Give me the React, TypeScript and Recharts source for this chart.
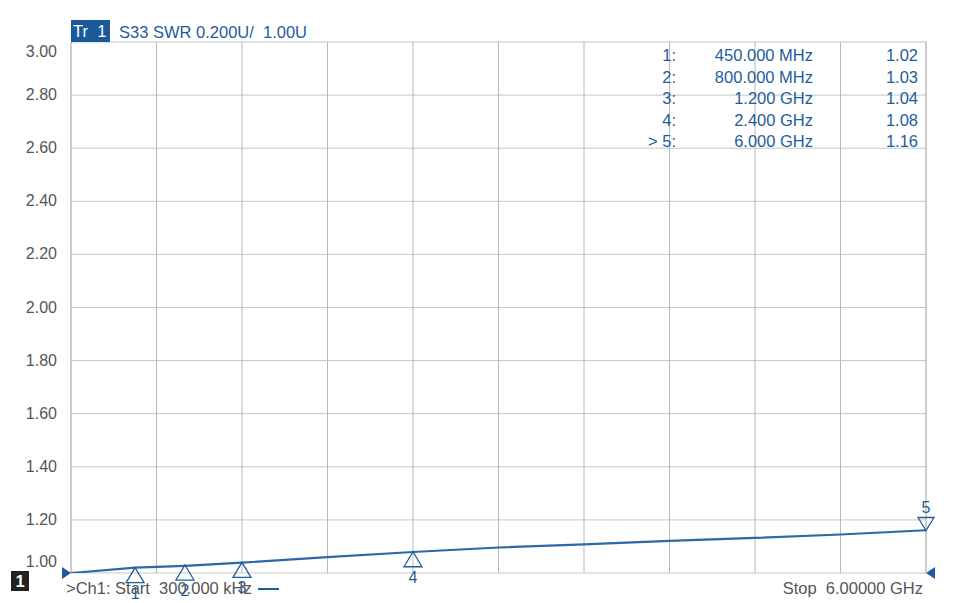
import React from 'react';
import { ComposedChart, Line, XAxis, YAxis, ReferenceLine, ReferenceDot } from 'recharts';

// trace: S33 SWR vs frequency (GHz)
const traceFreq = [0.0003, 0.45, 0.8, 1.2, 1.8, 2.4, 3.0, 3.6, 4.2, 4.8, 5.4, 6.0];
const traceSwr = [1.0, 1.02, 1.027, 1.039, 1.06, 1.079, 1.096, 1.108, 1.121, 1.132, 1.145, 1.161];

// markers
const markerIds = ['1', '2', '3', '4', '5'];
const markerFreq = [0.45, 0.8, 1.2, 2.4, 6.0];
const markerSwr = [1.02, 1.03, 1.04, 1.08, 1.16];
const markerTableIds = ['1:', '2:', '3:', '4:', '> 5:'];
const markerTableFreq = ['450.000 MHz', '800.000 MHz', '1.200 GHz', '2.400 GHz', '6.000 GHz'];
const markerTableVal = ['1.02', '1.03', '1.04', '1.08', '1.16'];

// axes
const yTicks = [1.0, 1.2, 1.4, 1.6, 1.8, 2.0, 2.2, 2.4, 2.6, 2.8, 3.0];
const startGHz = 0.0003;
const stopGHz = 6.0;
const xDivisions = Array.from({ length: 11 }, (_, i) => startGHz + (i * (stopGHz - startGHz)) / 10);

const data = traceFreq.map((f, i) => ({ f, swr: traceSwr[i] }));

const BLUE = '#1f5c9c';
const TRACE = '#2d68a8';
const FONT = '"Liberation Sans", Arial, sans-serif';

const YTick = (props: any) => {
    const { x, y, payload } = props;
    let dy = 5;
    if (payload.value >= 3) dy = 15;
    if (payload.value <= 1) dy = -6;
    return (
        <text x={x - 6} y={y + dy} textAnchor="end" fontSize={16} fill="#555" fontFamily={FONT}>
            {Number(payload.value).toFixed(2)}
        </text>
    );
};

const markerShape = (id: string, down: boolean) => (props: any) => {
    const { cx, cy } = props;
    if (down) {
        return (
            <g>
                <path d={`M${cx},${cy} L${cx - 8},${cy - 13} L${cx + 8},${cy - 13} Z`} fill="none" stroke={BLUE} strokeWidth={1.3} />
                <text x={cx} y={cy - 18} textAnchor="middle" fontSize={16} fill={BLUE} fontFamily={FONT}>{id}</text>
            </g>
        );
    }
    return (
        <g>
            <path d={`M${cx},${cy} L${cx - 9},${cy + 15} L${cx + 9},${cy + 15} Z`} fill="none" stroke={BLUE} strokeWidth={1.3} />
            <text x={cx} y={cy + 31} textAnchor="middle" fontSize={16} fill={BLUE} fontFamily={FONT}>{id}</text>
        </g>
    );
};

const refShape = (side: 'left' | 'right') => (props: any) => {
    const { cx, cy } = props;
    const d = side === 'left'
        ? `M${cx - 9},${cy - 6} L${cx},${cy} L${cx - 9},${cy + 6} Z`
        : `M${cx + 9},${cy - 6} L${cx},${cy} L${cx + 9},${cy + 6} Z`;
    return <path d={d} fill={BLUE} />;
};

export default function App() {
    const txt: React.CSSProperties = { position: 'absolute', fontFamily: FONT, fontSize: 16.5, lineHeight: '18px', whiteSpace: 'pre' };
    return (
        <div style={{ position: 'fixed', left: 0, top: 0, width: 960, height: 603, background: '#fff', overflow: 'hidden' }}>
            <ComposedChart width={960} height={603} data={data} margin={{ top: 42, right: 34, bottom: 30, left: 0 }}>
                <XAxis dataKey="f" type="number" domain={[startGHz, stopGHz]} hide allowDataOverflow />
                <YAxis type="number" domain={[1, 3]} ticks={yTicks} width={71} axisLine={false} tickLine={false} tick={YTick} interval={0} allowDataOverflow />
                {yTicks.map((v) => (
                    <ReferenceLine key={`h${v}`} y={v} stroke="#c6c6c6" strokeWidth={1} />
                ))}
                {xDivisions.map((v, i) => (
                    <ReferenceLine key={`v${i}`} x={v} stroke={i === 0 || i === 10 ? '#9a9a9a' : '#b8b8b8'} strokeWidth={1} />
                ))}
                <Line dataKey="swr" type="linear" stroke={TRACE} strokeWidth={2.2} dot={false} isAnimationActive={false} />
                {markerFreq.map((f, i) => (
                    <ReferenceDot key={`m${i}`} x={f} y={markerSwr[i]} ifOverflow="visible" shape={markerShape(markerIds[i], i === 4)} />
                ))}
                <ReferenceDot x={startGHz} y={1} ifOverflow="visible" shape={refShape('left')} />
                <ReferenceDot x={stopGHz} y={1} ifOverflow="visible" shape={refShape('right')} />
            </ComposedChart>

            <div style={{ ...txt, left: 71, top: 20, width: 37, height: 22, background: '#1a5a9c', color: '#fff', paddingLeft: 2, lineHeight: '22px' }}>Tr  1</div>
            <div style={{ ...txt, left: 119, top: 23, color: BLUE }}>S33 SWR 0.200U/  1.00U</div>

            {markerTableIds.map((id, i) => (
                <React.Fragment key={`t${i}`}>
                    <div style={{ ...txt, left: 600, width: 76, top: 46 + i * 21.6, textAlign: 'right', color: BLUE }}>{id}</div>
                    <div style={{ ...txt, left: 690, width: 123, top: 46 + i * 21.6, textAlign: 'right', color: BLUE }}>{markerTableFreq[i]}</div>
                    <div style={{ ...txt, left: 840, width: 78, top: 46 + i * 21.6, textAlign: 'right', color: BLUE }}>{markerTableVal[i]}</div>
                </React.Fragment>
            ))}

            <div style={{ ...txt, left: 11, top: 571, width: 18, height: 20, background: '#222', color: '#fff', textAlign: 'center', lineHeight: '20px', fontWeight: 'bold' }}>1</div>
            <div style={{ ...txt, left: 66, top: 579, color: '#555' }}>{'>Ch1: Start  300.000 kHz'}</div>
            <div style={{ position: 'absolute', left: 258, top: 588, width: 21, height: 2, background: BLUE }} />
            <div style={{ ...txt, left: 700, width: 223, top: 579, color: '#555', textAlign: 'right' }}>Stop  6.00000 GHz</div>
        </div>
    );
}
